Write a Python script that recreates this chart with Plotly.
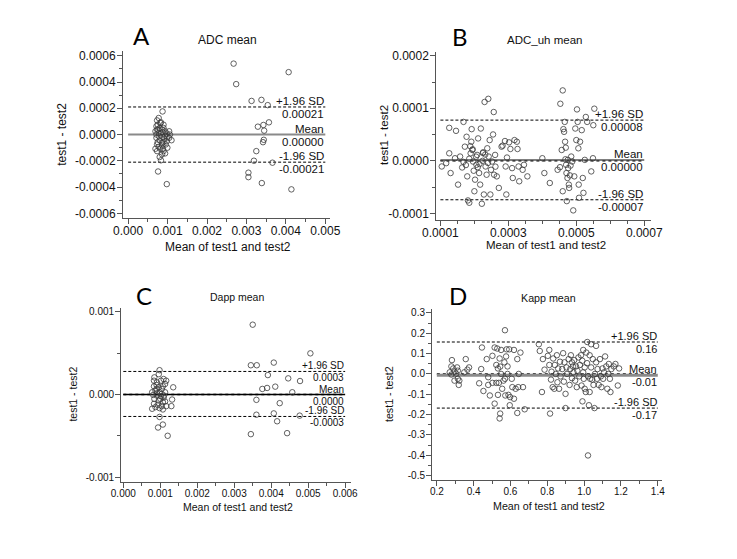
import plotly.graph_objects as go

W, H = 737, 559

# ---------------- Panel A : ADC mean ----------------
adc_mean = [0.000873, 0.000775, 0.000734, 0.000816, 0.000718, 0.000897, 0.000734, 0.00086, 0.000938, 0.00104,
            0.000775, 0.000832, 0.000938, 0.0011, 0.000718, 0.0008, 0.000897, 0.00098, 0.000734, 0.00086,
            0.000954, 0.000693, 0.000816, 0.000897, 0.000938, 0.00086, 0.0008, 0.000832, 0.000759, 0.00098,
            0.00075, 0.0008, 0.000897, 0.000693, 0.00088, 0.00098, 0.000718, 0.000783, 0.000865, 0.000995,
            0.00075, 0.00092, 0.00086, 0.000775, 0.000995, 0.00088, 0.000734, 0.000832, 0.000759, 0.00106,
            0.00104,
            0.002675, 0.00274, 0.00407, 0.00313, 0.00338, 0.00354, 0.00329, 0.00343, 0.00357, 0.00345,
            0.00344, 0.00342, 0.00325, 0.00319, 0.00366, 0.00305, 0.00305, 0.00339, 0.00414]
adc_diff = [0.000176, 0.000126, 0.000108, 0.000088, 0.000063, 0.000075, 0.000038, 0.000038, 0.000025, 0.000025,
            0.000013, 0.000008, -0.000008, -0.000043, -0.000025, -0.000043, -0.000058, -0.00005, -0.000075, -0.000083,
            -0.000075, -0.000108, -0.000108, -0.000126, -0.000143, -0.000151, -0.000171, -0.000196, -0.000281, -0.000377,
            0.000075, 0.00005, 0.00005, 0.000025, 0.000018, 0.000008, 0.0, -0.000013, -0.000018, -0.000018,
            -0.000058, -0.000033, -0.000063, -0.000093, -0.0001, -0.000108, -0.000126, 0.000093, 0.000038, 0.0,
            -0.000025,
            0.00054, 0.000384, 0.000475, 0.000256, 0.000264, 0.000224, 0.00006, 0.000073, 0.000093, 0.00003,
            -0.00004, -0.000058, -0.000126, -0.000199, -0.000214, -0.00029, -0.000324, -0.000369, -0.000417]
adc_stats = [0.00021, 0.0, -0.00021]
adc_stat_text = ["0.00021", "0.00000", "-0.00021"]
adc_xticks = [0.000, 0.001, 0.002, 0.003, 0.004, 0.005]
adc_xtext = ["0.000", "0.001", "0.002", "0.003", "0.004", "0.005"]
adc_yticks = [0.0006, 0.0004, 0.0002, 0.0, -0.0002, -0.0004, -0.0006]
adc_ytext = ["0.0006", "0.0004", "0.0002", "0.0000", "-0.0002", "-0.0004", "-0.0006"]

# ---------------- Panel B : ADC_uh mean ----------------
uh_mean = [0.000104, 0.000117, 0.000126, 0.000126, 0.00013, 0.000143, 0.000146, 0.000152, 0.000158, 0.000164,
           0.000168, 0.000172, 0.000177, 0.000179, 0.000181, 0.000185, 0.000189, 0.000191, 0.000192, 0.000194,
           0.000196, 0.000198, 0.0002, 0.000202, 0.000206, 0.000208, 0.000211, 0.000214, 0.000217, 0.000219,
           0.000222, 0.000224, 0.000226, 0.000228, 0.00023, 0.000233, 0.000236, 0.000238, 0.000241, 0.000242,
           0.000245, 0.000247, 0.000249, 0.000252, 0.000255, 0.000257, 0.000258, 0.000261, 0.000266, 0.000272,
           0.00028, 0.000283, 0.00029, 0.000292, 0.000294, 0.000296, 0.000302, 0.000306, 0.000311, 0.000313,
           0.000318, 0.000325, 0.000327, 0.00033, 0.000332, 0.000342, 0.000346, 0.000356, 0.0004, 0.000406,
           0.000422, 0.000445, 0.000453, 0.000457, 0.00046, 0.00046, 0.000462, 0.000464, 0.000466, 0.000467,
           0.000469, 0.00047, 0.000471, 0.000472, 0.000474, 0.000475, 0.000476, 0.000478, 0.000479, 0.000481,
           0.000485, 0.000488, 0.000491, 0.000494, 0.000497, 0.0005, 0.000502, 0.000504, 0.000506, 0.000507,
           0.000508, 0.000511, 0.000516, 0.000519, 0.000521, 0.000525, 0.000528, 0.000532, 0.000544, 0.00055,
           0.000553, 0.000549, 0.000185, 0.000205, 0.000215, 0.000232, 0.000175, 0.000195, 0.00021, 0.000225,
           0.00024, 0.000168, 0.000188, 0.000262, 0.000452, 0.000468, 0.000483]
uh_diff = [-0.0000107, -0.0000044, 0.0000144, 0.0000628, -0.0000232, 0.000005, 0.0000571, -0.0000452, 0.0000082, -0.0000126,
           0.0000741, 0.000027, 0.0000458, -0.0000295, -0.0000753, -0.0000797, 0.0000144, 0.0000364, 0.0000603, 0.0000207,
           -0.0000013, -0.0000188, -0.0000578, -0.0000358, -0.0000075, 0.0000113, 0.0000427, -0.0000232, -0.0000452, 0.0000615,
           -0.0000816, 0.0, 0.0000163, -0.000064, 0.000112, -0.0000107, -0.0000264, 0.0000239, 0.000118, 0.0000082,
           0.0000395, -0.000064, -0.000017, -0.0000013, 0.0000502, 0.0000929, -0.0000264, 0.0000113, -0.0000295, -0.0000515,
           0.000027, 0.0000289, 0.0000377, -0.0000107, -0.000064, 0.0000063, 0.0000352, 0.0000226, -0.0000138, -0.0000326,
           0.0000395, 0.0000364, 0.0000226, -0.0000107, -0.0000389, -0.000017, -0.0000075, -0.0000295, 0.000005, -0.0000232,
           -0.0000421, -0.000017, 0.0001086, 0.0000207, -0.0000578, 0.000134, 0.0000603, 0.0000552, 0.0000741, 0.0000364,
           0.0000251, -0.0000075, -0.0000232, -0.0000766, -0.0000326, 0.0000019, -0.0000138, -0.0000452, -0.0000515, -0.0000276,
           0.0000082, -0.0000013, -0.0000942, -0.0000295, 0.0000615, 0.0000395, 0.0000979, 0.0000741, 0.0000239, -0.0000452,
           -0.0000703, 0.0000364, 0.0000584, -0.0000326, -0.0000609, 0.0000019, 0.0000835, 0.0000741, -0.0000201, 0.0000678,
           0.0000992, 0.000005, 0.000004, 0.000008, -0.000006, 0.000012, -0.000008, 0.000022, -0.000012, 0.000015,
           -0.000004, -0.000002, 0.000028, -0.000011, -0.000012, 0.000003, -0.000009]
uh_stats = [0.0000775, 0.0000018, -0.0000740]
uh_stat_text = ["0.00008", "0.00000", "-0.00007"]
uh_xticks = [0.0001, 0.0003, 0.0005, 0.0007]
uh_xtext = ["0.0001", "0.0003", "0.0005", "0.0007"]
uh_yticks = [0.0002, 0.0001, 0.0, -0.0001]
uh_ytext = ["0.0002", "0.0001", "0.0000", "-0.0001"]

# ---------------- Panel C : Dapp mean ----------------
dapp_mean = [0.00098, 0.00096, 0.00084, 0.00109, 0.00102, 0.00091, 0.00113, 0.00135, 0.00083, 0.00096,
             0.00104, 0.00087, 0.00098, 0.00113, 0.00081, 0.00091, 0.00102, 0.00109, 0.00132, 0.00084,
             0.00096, 0.00107, 0.00083, 0.00093, 0.00104, 0.00116, 0.0013, 0.00087, 0.00098, 0.00107,
             0.00078, 0.00098, 0.00107, 0.00094, 0.0012, 0.0009, 0.00107, 0.00091, 0.00104, 0.0011,
             0.0009, 0.001, 0.00113, 0.00078, 0.00083, 0.00116,
             0.0035, 0.00506, 0.00407, 0.00345, 0.00361, 0.00391, 0.00446, 0.00478, 0.00376, 0.00389,
             0.00411, 0.00457, 0.0036, 0.00423, 0.0036, 0.00407, 0.00416, 0.00477, 0.00345, 0.00443]
dapp_diff = [0.000295, 0.000247, 0.000208, 0.000188, 0.000168, 0.000148, 0.000128, 0.000088, 0.0001, 0.000088,
             0.000068, 0.000048, 0.000028, 0.000028, -0.000004, -0.000012, -0.00002, -0.000036, -0.00006, -0.000052,
             -0.000072, -0.000092, -0.000112, -0.000124, -0.00014, -0.00014, -0.00014, -0.000152, -0.000164, -0.00018,
             -0.000172, -0.000271, -0.000363, -0.000399, -0.000499, 0.000116, 0.0001, 0.000016, 0.000008, -0.000012,
             0.000068, -0.000052, -0.000084, 0.000028, 0.000168, 0.000168,
             0.000846, 0.000499, 0.000387, 0.000355, 0.000355, 0.000236, 0.000196, 0.000164, 0.000068, 0.00008,
             0.000096, 0.000028, -0.000064, -0.000104, -0.000244, -0.000228, -0.000323, -0.000255, -0.000479, -0.000467]
dapp_stats = [0.00028, 0.0, -0.000265]
dapp_stat_text = ["0.0003", "0.0000", "-0.0003"]
dapp_xticks = [0.000, 0.001, 0.002, 0.003, 0.004, 0.005, 0.006]
dapp_xtext = ["0.000", "0.001", "0.002", "0.003", "0.004", "0.005", "0.006"]
dapp_yticks = [0.001, 0.0, -0.001]
dapp_ytext = ["0.001", "0.000", "-0.001"]

# ---------------- Panel D : Kapp mean ----------------
kapp_mean = [0.282, 0.279, 0.27, 0.279, 0.289, 0.296, 0.31, 0.314, 0.296, 0.319, 0.322, 0.305, 0.357, 0.349, 0.375,
             0.366, 0.314,
             0.43, 0.445, 0.441, 0.453, 0.471, 0.479, 0.479, 0.488, 0.502, 0.502, 0.514, 0.514, 0.523, 0.523,
             0.528, 0.532, 0.532, 0.537, 0.541, 0.544, 0.544, 0.541, 0.549, 0.549, 0.555, 0.562, 0.567, 0.57,
             0.57, 0.572, 0.576, 0.579, 0.584, 0.584, 0.589, 0.593, 0.596, 0.598, 0.607, 0.61, 0.619, 0.619,
             0.628, 0.637, 0.637, 0.642, 0.645, 0.654, 0.668, 0.677,
             0.754, 0.759, 0.771, 0.776, 0.785, 0.803, 0.811, 0.811, 0.815, 0.82, 0.823, 0.829, 0.832, 0.838,
             0.841, 0.846, 0.852, 0.855, 0.859, 0.864, 0.869, 0.872, 0.881, 0.886, 0.89, 0.893, 0.899, 0.899,
             0.904, 0.907, 0.916, 0.921, 0.925, 0.928, 0.934, 0.934, 0.939, 0.942, 0.946, 0.951, 0.956, 0.96,
             0.963, 0.969, 0.974, 0.977, 0.983, 0.986, 0.99, 0.991, 0.995, 0.995, 0.998, 1.003, 1.003, 1.009,
             1.012, 1.016, 1.017, 1.021, 1.021, 1.026, 1.03, 1.03, 1.033, 1.038, 1.038, 1.044, 1.047, 1.051,
             1.056, 1.059, 1.065, 1.065, 1.07, 1.073, 1.079, 1.086, 1.091, 1.094, 1.1, 1.103, 1.108, 1.114,
             1.12, 1.126, 1.131, 1.134, 1.14, 1.143, 1.148, 1.161, 1.17, 1.183, 1.19]
kapp_diff = [0.068, 0.037, 0.008, -0.003, 0.027, 0.011, 0.032, -0.024, -0.033, -0.054, -0.033, 0.001, 0.073, 0.008, 0.032,
             0.021, 0.016,
             -0.046, 0.13, 0.024, -0.084, 0.073, -0.016, -0.054, -0.106, 0.089, -0.044, 0.13, -0.146, 0.044, -0.044,
             0.125, 0.027, -0.103, -0.044, 0.076, 0.036, -0.195, -0.219, 0.118, 0.0, -0.073, -0.033, 0.057, 0.215,
             -0.024, -0.106, 0.086, 0.121, 0.037, 0.0, -0.103, 0.121, -0.154, -0.114, -0.024, -0.065, 0.118, -0.122,
             -0.073, 0.073, -0.192, -0.065, 0.0, 0.105, -0.065, -0.174,
             0.146, 0.113, -0.089, 0.073, 0.021, 0.089, 0.118, 0.044, -0.195, -0.028, 0.011, -0.065, 0.076, -0.073,
             0.044, 0.0, 0.092, -0.041, 0.027, -0.073, 0.06, -0.012, 0.024, 0.102, -0.038, 0.057, -0.098, -0.168,
             0.032, 0.0, 0.073, -0.054, 0.024, 0.092, -0.021, 0.057, 0.037, 0.008, 0.068, -0.033, 0.037, -0.065,
             0.016, 0.081, -0.012, 0.044, 0.092, -0.057, 0.065, -0.135, 0.008, 0.118, -0.024, 0.032, -0.073, -0.089,
             0.105, 0.053, 0.157, -0.401, -0.012, -0.154, 0.092, -0.089, -0.024, 0.146, 0.032, -0.028, 0.073, -0.054,
             -0.168, 0.0, 0.138, 0.057, -0.024, 0.024, -0.054, 0.073, -0.012, -0.065, 0.027, -0.024, 0.008, 0.086,
             0.037, -0.073, 0.0, 0.049, -0.024, -0.089, 0.024, 0.037, 0.049, -0.057, 0.027]
kapp_stats = [0.157, -0.006, -0.168]
kapp_stat_text = ["0.16", "-0.01", "-0.17"]
kapp_xticks = [0.2, 0.4, 0.6, 0.8, 1.0, 1.2, 1.4]
kapp_xtext = ["0.2", "0.4", "0.6", "0.8", "1.0", "1.2", "1.4"]
kapp_yticks = [0.3, 0.2, 0.1, 0.0, -0.1, -0.2, -0.3, -0.4, -0.5]
kapp_ytext = ["0.3", "0.2", "0.1", "0.0", "-0.1", "-0.2", "-0.3", "-0.4", "-0.5"]

letters = ["A", "B", "C", "D"]
titles = ["ADC mean", "ADC_uh mean", "Dapp mean", "Kapp mean"]
xlabel = "Mean of test1 and test2"
ylabel = "test1 - test2"


def fx(px):
    return px / W


def fy(py):
    return 1 - py / H


panels = [
    dict(x=adc_mean, y=adc_diff, stats=adc_stats, stext=adc_stat_text,
         xt=adc_xticks, xtt=adc_xtext, yt=adc_yticks, ytt=adc_ytext,
         xminor=[i * 0.0005 for i in range(11)], yminor=[-0.0006 + i * 0.0001 for i in range(13)],
         xdom=(113, 328), ydom=(49, 217), xr=(-0.0001297, 0.0051297), yr=(-0.0006324, 0.0006324),
         xline=(0.0, 0.005), fs=12, tfs=12, lfs=11.5,
         letter=(132, 33), title=(221, 37), xtitle=(222, 247), ytitle=(49, 133),
         mean_color="#8a8a8a", mean_w=2, zero=False),
    dict(x=uh_mean, y=uh_diff, stats=uh_stats, stext=uh_stat_text,
         xt=uh_xticks, xtt=uh_xtext, yt=uh_yticks, ytt=uh_ytext,
         xminor=[0.0001 + i * 0.00005 for i in range(13)], yminor=[-0.0001 + i * 0.00005 for i in range(7)],
         xdom=(437.7, 660), ydom=(49.3, 219.3), xr=(0.0000878, 0.000719), yr=(-0.0001124, 0.0002075),
         xline=(0.0001, 0.0007), fs=11.5, tfs=12, lfs=11.5,
         letter=(462, 34), title=(550, 37), xtitle=(551, 245), ytitle=(383, 133),
         mean_color="#555555", mean_w=1.5, zero=True),
    dict(x=dapp_mean, y=dapp_diff, stats=dapp_stats, stext=dapp_stat_text,
         xt=dapp_xticks, xtt=dapp_xtext, yt=dapp_yticks, ytt=dapp_ytext,
         xminor=[i * 0.0005 for i in range(13)], yminor=[-0.001, -0.0005, 0.0, 0.0005, 0.001],
         xdom=(111, 349), ydom=(308.3, 484), xr=(-0.00006, 0.00615), yr=(-0.001056, 0.001048),
         xline=(0.0, 0.006), fs=10.5, tfs=10, lfs=10,
         letter=(135, 296), title=(231, 297), xtitle=(232, 509), ytitle=(61, 395),
         mean_color="#000000", mean_w=1.5, zero=True),
    dict(x=kapp_mean, y=kapp_diff, stats=kapp_stats, stext=kapp_stat_text,
         xt=kapp_xticks, xtt=kapp_xtext, yt=kapp_yticks, ytt=kapp_ytext,
         xminor=[round(0.2 + i * 0.1, 2) for i in range(13)], yminor=[round(-0.5 + i * 0.05, 3) for i in range(17)],
         xdom=(433.3, 671.7), ydom=(309.3, 482.3), xr=(0.1738, 1.423), yr=(-0.5224, 0.3195),
         xline=(0.2, 1.4), fs=10.7, tfs=10, lfs=11,
         letter=(460, 296), title=(554, 298), xtitle=(555, 508), ytitle=(388, 395),
         mean_color="#8a8a8a", mean_w=3, zero=True),
]

fig = go.Figure()
annotations = []
FONT = "Liberation Sans, Arial, sans-serif"

for i, p in enumerate(panels):
    n = i + 1
    xa = "x" if n == 1 else f"x{n}"
    ya = "y" if n == 1 else f"y{n}"
    x0, x1 = p["xline"]
    up, mn, lo = p["stats"]
    if p["zero"]:
        fig.add_trace(go.Scatter(x=[x0, x1], y=[0, 0], mode="lines", xaxis=xa, yaxis=ya,
                                 line=dict(color="#000000", width=1.5, dash="dot"), hoverinfo="skip"))
    fig.add_trace(go.Scatter(x=[x0, x1], y=[mn, mn], mode="lines", xaxis=xa, yaxis=ya,
                             line=dict(color=p["mean_color"], width=p["mean_w"]), hoverinfo="skip"))
    for lim in (up, lo):
        fig.add_trace(go.Scatter(x=[x0, x1], y=[lim, lim], mode="lines", xaxis=xa, yaxis=ya,
                                 line=dict(color="#000000", width=1, dash="3px,2px"), hoverinfo="skip"))
    fig.add_trace(go.Scatter(x=p["x"], y=p["y"], mode="markers", xaxis=xa, yaxis=ya,
                             marker=dict(symbol="circle-open", size=5.5, color="#3a3a3a",
                                         line=dict(width=0.8, color="#3a3a3a"))))

    axis_common = dict(showline=True, linecolor="#555555", linewidth=1, showgrid=False, zeroline=False,
                       ticks="outside", ticklen=5, tickcolor="#555555", tickwidth=1,
                       tickmode="array", fixedrange=True,
                       tickfont=dict(family=FONT, size=p["tfs"], color="#111111"))
    fig.update_layout(**{
        ("xaxis" if n == 1 else f"xaxis{n}"): dict(
            axis_common, domain=[fx(p["xdom"][0]), fx(p["xdom"][1])], range=list(p["xr"]),
            tickvals=p["xt"], ticktext=p["xtt"], anchor=ya, ticklabelstandoff=-3,
            minor=dict(tickvals=p["xminor"], ticks="outside", ticklen=3, tickcolor="#555555")),
        ("yaxis" if n == 1 else f"yaxis{n}"): dict(
            axis_common, domain=[fy(p["ydom"][1]), fy(p["ydom"][0])], range=list(p["yr"]),
            tickvals=p["yt"], ticktext=p["ytt"], anchor=xa, ticklabelstandoff=-1,
            minor=dict(tickvals=p["yminor"], ticks="outside", ticklen=3, tickcolor="#555555")),
    })

    labels_above = ["+1.96 SD", "Mean", "-1.96 SD"]
    for val, above, below in zip(p["stats"], labels_above, p["stext"]):
        annotations.append(dict(x=x1, y=val, xref=xa, yref=ya, text=above, showarrow=False,
                                xanchor="right", yanchor="bottom", yshift=-1, borderpad=0,
                                font=dict(family=FONT, size=p["lfs"], color="#111111")))
        annotations.append(dict(x=x1, y=val, xref=xa, yref=ya, text=below, showarrow=False,
                                xanchor="right", yanchor="top", yshift=0, borderpad=0,
                                font=dict(family=FONT, size=p["lfs"], color="#111111")))
    annotations.append(dict(x=fx(p["letter"][0]), y=fy(p["letter"][1]), xref="paper", yref="paper",
                            text=letters[i], showarrow=False, xanchor="center", yanchor="middle",
                            font=dict(family="Lato, Open Sans, sans-serif", size=24, color="#000000")))
    annotations.append(dict(x=fx(p["title"][0]), y=fy(p["title"][1]), xref="paper", yref="paper",
                            text=titles[i], showarrow=False, xanchor="center", yanchor="middle",
                            font=dict(family=FONT, size=p["fs"], color="#111111")))
    annotations.append(dict(x=fx(p["xtitle"][0]), y=fy(p["xtitle"][1]), xref="paper", yref="paper",
                            text=xlabel, showarrow=False, xanchor="center", yanchor="middle",
                            font=dict(family=FONT, size=p["fs"], color="#111111")))
    annotations.append(dict(x=fx(p["ytitle"][0]), y=fy(p["ytitle"][1]), xref="paper", yref="paper",
                            text=ylabel, showarrow=False, xanchor="center", yanchor="middle", textangle=-90,
                            font=dict(family=FONT, size=p["fs"], color="#111111")))

fig.update_layout(width=W, height=H, margin=dict(l=0, r=0, t=0, b=0),
                  paper_bgcolor="white", plot_bgcolor="white", showlegend=False,
                  annotations=annotations)

fig.write_html("out.html", config={"displayModeBar": False},
               post_script="document.body.style.margin='0';")
